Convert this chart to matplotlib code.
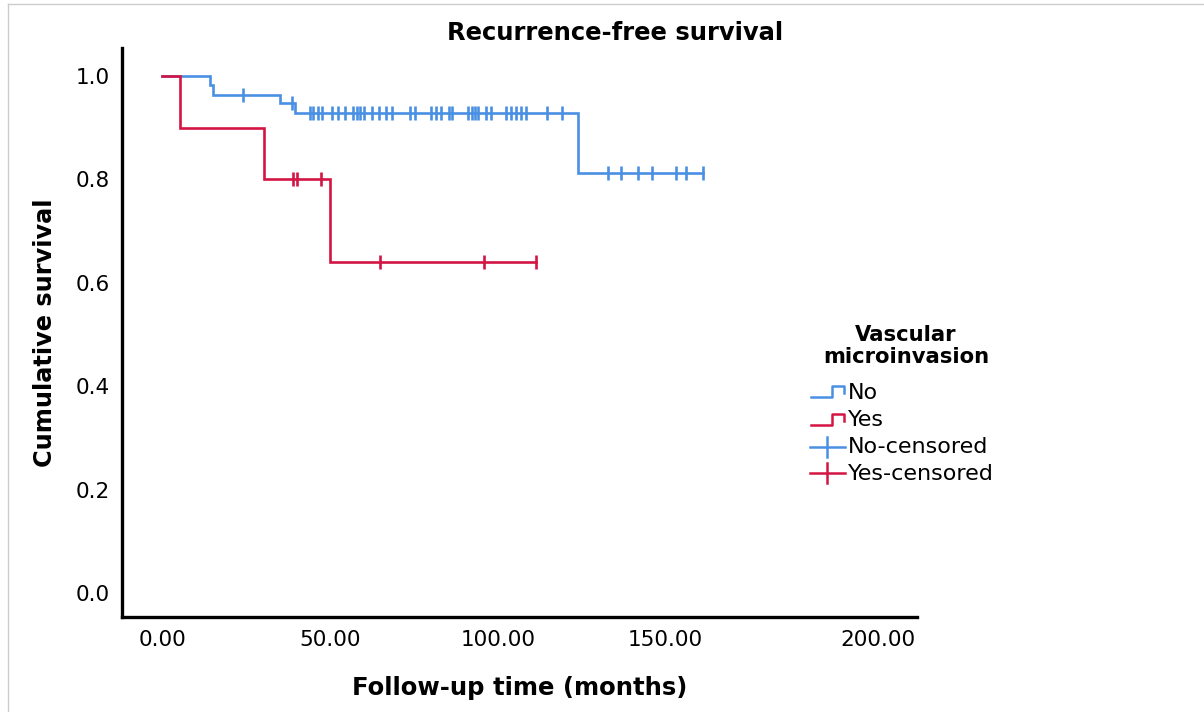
import numpy as np
import matplotlib
matplotlib.use("Agg")
import matplotlib.pyplot as plt
from matplotlib.lines import Line2D
from matplotlib.transforms import ScaledTranslation

# Kaplan-Meier steps (time in months, survival after each step)
no_times = [0, 14.3, 15.0, 35.2, 39.7, 123.8]
no_surv = [1.0, 0.982, 0.964, 0.947, 0.928, 0.812]
no_end = 161.2
no_censored = [24.2, 38.7, 44.0, 45.0, 46.3, 47.5, 50.6, 52.5, 54.6, 57.0, 58.0,
               59.0, 60.0, 62.6, 64.5, 66.6, 68.6, 74.0, 75.2, 80.0, 81.5, 83.0,
               85.5, 86.5, 91.0, 92.2, 93.1, 94.0, 96.4, 97.9, 102.4, 104.0,
               105.4, 107.0, 108.4, 114.8, 119.3, 132.8, 136.7, 141.8, 146.0,
               153.1, 156.1, 161.2]

yes_times = [0, 5.4, 30.4, 49.9]
yes_surv = [1.0, 0.9, 0.8, 0.64]
yes_end = 111.3
yes_censored = [39.0, 40.2, 47.2, 65.0, 95.8, 111.3]

x_ticks = [0, 50, 100, 150, 200]
y_ticks = [0.0, 0.2, 0.4, 0.6, 0.8, 1.0]

blue = "#4A90E2"
red = "#D41544"

W, H = 1204, 712
fig = plt.figure(figsize=(W / 100, H / 100), dpi=100)
ax = fig.add_axes([122 / W, 1 - 617 / H, (917 - 122) / W, (617 - 48) / H])


def draw_group(times, surv, end, cens, color):
    t = np.array(times + [end])
    s = np.array(surv + [surv[-1]])
    ax.step(t, s, where="post", color=color, lw=1.9, solid_joinstyle="miter")
    idx = np.searchsorted(times, cens, side="right") - 1
    ax.plot(cens, np.array(surv)[idx], ls="none", marker="|", color=color,
            markersize=10.5, markeredgewidth=1.9)


draw_group(no_times, no_surv, no_end, no_censored, blue)
draw_group(yes_times, yes_surv, yes_end, yes_censored, red)

ax.set_xlim(-12, 225)
ax.set_ylim(-0.046, 1.054)
ax.set_xticks(x_ticks)
ax.set_xticklabels([f"{v:.2f}" for v in x_ticks])
ax.set_yticks(y_ticks)
ax.set_yticklabels([f"{v:.1f}" for v in y_ticks])
ax.tick_params(length=0, labelsize=15.5, pad=9)
for side in ["top", "right"]:
    ax.spines[side].set_visible(False)
for side in ["left", "bottom"]:
    ax.spines[side].set_linewidth(2.4)
ax.xaxis.get_majorticklabels()[-1].set_transform(
    ax.xaxis.get_majorticklabels()[-1].get_transform()
    + ScaledTranslation(45 / 100, 0, fig.dpi_scale_trans))

fig.text(615 / W, 1 - 33 / H, "Recurrence-free survival", ha="center",
         va="center", fontsize=17.5, fontweight="bold")
fig.text(520 / W, 1 - 688 / H, "Follow-up time (months)", ha="center",
         va="center", fontsize=17.5, fontweight="bold")
fig.text(45 / W, 1 - 333 / H, "Cumulative survival", ha="center",
         va="center", fontsize=17.3, fontweight="bold", rotation=90)

# legend drawn by hand
def fx(px):
    return px / W


def fy(py):
    return 1 - py / H


fig.text(fx(906), fy(335), "Vascular", ha="center", va="center",
         fontsize=15.2, fontweight="bold")
fig.text(fx(906), fy(357), "microinvasion", ha="center", va="center",
         fontsize=15.2, fontweight="bold")

for dy, color in [(0, blue), (28, red)]:
    xs = [811, 832, 832, 844, 844]
    ys = [397 + dy, 397 + dy, 386 + dy, 386 + dy, 393 + dy]
    fig.add_artist(Line2D([fx(v) for v in xs], [fy(v) for v in ys],
                          color=color, lw=1.8, transform=fig.transFigure))
for yc, color in [(447, blue), (473, red)]:
    fig.add_artist(Line2D([fx(810), fx(845)], [fy(yc), fy(yc)], color=color,
                          lw=1.8, transform=fig.transFigure))
    fig.add_artist(Line2D([fx(827), fx(827)], [fy(yc - 10), fy(yc + 10)],
                          color=color, lw=1.8, transform=fig.transFigure))

for label, yc in [("No", 393), ("Yes", 420), ("No-censored", 447),
                  ("Yes-censored", 474)]:
    fig.text(fx(848), fy(yc), label, ha="left", va="center", fontsize=16)

# light frame of the original screenshot
fig.add_artist(Line2D([fx(8), fx(8)], [fy(4), 0], color="#cccccc", lw=1,
                      transform=fig.transFigure))
fig.add_artist(Line2D([fx(8), 1], [fy(4), fy(4)], color="#cccccc", lw=1,
                      transform=fig.transFigure))

fig.savefig("out.png", dpi=100)
